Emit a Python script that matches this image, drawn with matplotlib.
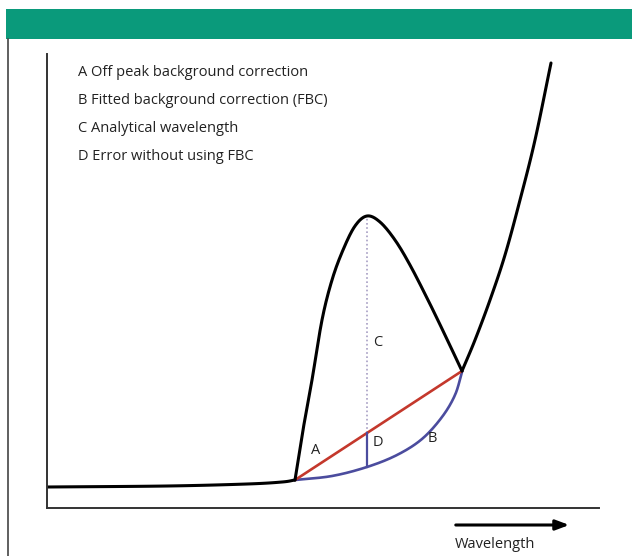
import matplotlib
matplotlib.use("Agg")
import matplotlib.pyplot as plt
from matplotlib.patches import Rectangle
from matplotlib.lines import Line2D
import numpy as np

plt.rcParams['font.family'] = ['Open Sans', 'DejaVu Sans']

# spectrum (wavelength, intensity), arbitrary units
# three pieces: flat baseline, the peak, and the rising wing
base_x = [0, 120, 200, 235, 248]
base_y = [21, 22, 24, 26, 28]
peak_x = [248, 256, 265, 275, 285, 296, 308, 320, 333, 348, 363, 381, 398, 415]
peak_y = [28, 78, 128, 188, 228, 258, 282, 292, 286, 268, 243, 208, 173, 137]
wing_x = [415, 428, 443, 458, 473, 488, 504]
wing_y = [137, 168, 208, 253, 308, 368, 445]

# off peak background (straight line A)
off_x = [248, 415]
off_y = [28, 137]

# fitted background (curve B)
fit_x = [248, 285, 320, 350, 375, 395, 408, 415]
fit_y = [28, 32, 41, 53, 69, 91, 113, 136]

# analytical wavelength position (C) and error (D)
anal_x = 320
peak_top = 292
off_at_anal = 75
fit_at_anal = 41

legend_lines = ["A Off peak background correction",
                "B Fitted background correction (FBC)",
                "C Analytical wavelength",
                "D Error without using FBC"]


def smooth(xs, ys, n=20):
    # catmull-rom through the read points, only to draw a smooth stroke
    p = np.column_stack([xs, ys]).astype(float)
    p = np.vstack([2 * p[0] - p[1], p, 2 * p[-1] - p[-2]])
    out = []
    t = np.linspace(0, 1, n, endpoint=False)[:, None]
    for i in range(1, len(p) - 2):
        p0, p1, p2, p3 = p[i - 1], p[i], p[i + 1], p[i + 2]
        seg = 0.5 * ((2 * p1) + (-p0 + p2) * t + (2 * p0 - 5 * p1 + 4 * p2 - p3) * t ** 2
                     + (-p0 + 3 * p1 - 3 * p2 + p3) * t ** 3)
        out.append(seg)
    out.append(p[-2][None, :])
    out = np.vstack(out)
    return out[:, 0], out[:, 1]


W, H = 632, 556
fig = plt.figure(figsize=(W / 100, H / 100), dpi=100)

# green header band and left border
fig.add_artist(Rectangle((6 / W, 1 - 39 / H), 1 - 6 / W, 30 / H,
                         transform=fig.transFigure, color='#0a9a7b', lw=0))
fig.add_artist(Line2D([8 / W, 8 / W], [0, 1 - 39 / H], transform=fig.transFigure,
                      color='#444444', lw=1.2))

ax = fig.add_axes([47 / W, (H - 508) / H, (599 - 47) / W, (508 - 54) / H])
ax.set_xlim(0, 552)
ax.set_ylim(0, 454)
for s in ['top', 'right']:
    ax.spines[s].set_visible(False)
for s in ['left', 'bottom']:
    ax.spines[s].set_color('#333333')
    ax.spines[s].set_linewidth(1.4)
ax.set_xticks([])
ax.set_yticks([])
ax.patch.set_alpha(0)

ax.plot([anal_x, anal_x], [off_at_anal, peak_top], color='#a79ec4', lw=1.2, ls=(0, (1, 1.5)))
ax.plot(*smooth(fit_x, fit_y), color='#4b4c9e', lw=1.9, solid_joinstyle='round')
ax.plot(off_x, off_y, color='#c4382c', lw=1.9, solid_capstyle='round')
ax.plot([anal_x, anal_x], [fit_at_anal, off_at_anal], color='#4b4c9e', lw=1.6)
for xs, ys in [(base_x, base_y), (peak_x, peak_y), (wing_x, wing_y)]:
    ax.plot(*smooth(xs, ys), color='black', lw=2.2, solid_joinstyle='round',
            solid_capstyle='round')

lab_kw = dict(fontsize=10.5, color='#222222', ha='center', va='center')
ax.text(269, 57, 'A', **lab_kw)
ax.text(385, 70, 'B', **lab_kw)
ax.text(331, 165, 'C', **lab_kw)
ax.text(331, 65, 'D', **lab_kw)

for i, t in enumerate(legend_lines):
    fig.text(78 / W, 1 - (72 + 28 * i) / H, t, fontsize=10.5, color='#222222',
             ha='left', va='center')

# wavelength arrow
ax.annotate('', xy=(572, H - 525), xytext=(453, H - 525),
            xycoords='figure pixels', textcoords='figure pixels',
            arrowprops=dict(arrowstyle='-|>,head_length=0.8,head_width=0.3',
                            color='black', lw=2.2))
fig.text(495 / W, (H - 545) / H, 'Wavelength', fontsize=10.5, color='#222222',
         ha='center', va='center')

fig.savefig('out.png', dpi=100)
